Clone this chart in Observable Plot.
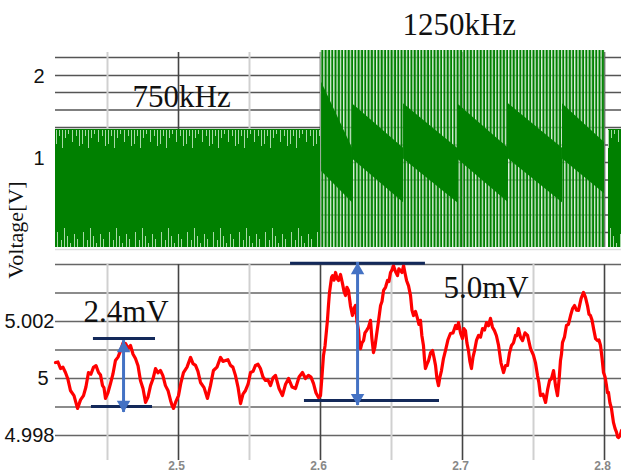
<!DOCTYPE html>
<html><head><meta charset="utf-8">
<script src="https://cdn.jsdelivr.net/npm/d3@7"></script>
<script src="https://cdn.jsdelivr.net/npm/@observablehq/plot@0.6"></script>
<style>
body{margin:0;background:#fff;}
#wrap{position:relative;width:621px;height:472px;overflow:hidden;background:#fff;}
#top{position:absolute;left:0;top:0;}
#bot{position:absolute;left:0;top:250px;}
#ylab{position:absolute;left:16px;top:230px;transform:translate(-50%,-50%) rotate(-90deg);font:22px "Liberation Serif","Times New Roman",serif;white-space:nowrap;color:#111;}
</style></head><body>
<div id="wrap"><div id="top"></div><div id="bot"></div><div id="ylab">Voltage[V]</div></div>
<script>
// ---- shared time axis ----
const xDomain = [2.41338, 2.81197];
const majorT = [2.5, 2.6, 2.7, 2.8];
const minorT = [2.45, 2.55, 2.65, 2.75];

// ---- top panel (switching voltage) ----
const topDomain = [-0.109, 2.921];
const topTicks = [1, 2];
const topGridV = [2.230, 2.012, 1.806, 1.594, 1.382, 1.170, 0.958, 0.745, 0.533, 0.321, 0.109];
const block750Start = [2.41338, 2.8028];
const block750End = [2.6, 2.81197];
const block750Lo = -0.073, block750Hi = 1.358;
const burst1250Start = 2.6, burst1250End = 2.8004;
const burst1250Lo = -0.073, burst1250Hi = 2.315;
const bandStart = [2.6008, 2.6225, 2.6585, 2.6965, 2.7324, 2.7704];
const bandEnd   = [2.6225, 2.6585, 2.6965, 2.7324, 2.7704, 2.8000];
const bandHiStart = [1.93, 1.67, 1.67, 1.67, 1.67, 1.67];
const bandHiEnd   = [1.13, 1.13, 1.13, 1.13, 1.13, 1.20];
const bandLoStart = [0.85, 1.00, 1.00, 1.00, 1.00, 1.00];
const bandLoEnd   = [0.47, 0.47, 0.47, 0.47, 0.47, 0.58];
const freqLabels = ["750kHz", "1250kHz"];
const freqLabelT = [2.4676, 2.6577];
const freqLabelV = [1.745, 2.618];

// ---- bottom panel (output voltage) ----
const botDomain = [4.997123, 5.004491];
const botGridV = [4.998, 4.999, 5.000, 5.001, 5.002, 5.003, 5.004];
const botTicksA = [5.002, 4.998];
const botTicksB = [5];
const sigT = [2.4134,2.4151,2.4169,2.4186,2.4204,2.4221,2.4239,2.4264,2.4289,2.4310,2.4331,2.4348,2.4366,2.4383,2.4401,2.4419,2.4437,2.4451,2.4465,2.4475,2.4486,2.4503,2.4521,2.4538,2.4556,2.4574,2.4592,2.4610,2.4627,2.4645,2.4662,2.4680,2.4697,2.4715,2.4732,2.4750,2.4768,2.4785,2.4803,2.4820,2.4838,2.4855,2.4873,2.4890,2.4908,2.4926,2.4944,2.4955,2.4965,2.4982,2.5000,2.5017,2.5035,2.5060,2.5085,2.5102,2.5120,2.5137,2.5155,2.5180,2.5204,2.5225,2.5246,2.5271,2.5296,2.5313,2.5331,2.5348,2.5366,2.5383,2.5401,2.5419,2.5437,2.5454,2.5472,2.5490,2.5507,2.5525,2.5542,2.5560,2.5577,2.5595,2.5613,2.5630,2.5648,2.5665,2.5683,2.5708,2.5732,2.5754,2.5775,2.5800,2.5824,2.5849,2.5873,2.5894,2.5915,2.5933,2.5951,2.5968,2.5986,2.6000,2.6010,2.6021,2.6032,2.6042,2.6049,2.6056,2.6063,2.6070,2.6078,2.6085,2.6095,2.6106,2.6117,2.6127,2.6141,2.6155,2.6166,2.6176,2.6186,2.6197,2.6211,2.6225,2.6235,2.6246,2.6257,2.6268,2.6275,2.6282,2.6292,2.6303,2.6313,2.6324,2.6338,2.6352,2.6362,2.6373,2.6383,2.6394,2.6408,2.6423,2.6433,2.6444,2.6458,2.6472,2.6482,2.6493,2.6503,2.6514,2.6528,2.6542,2.6552,2.6563,2.6574,2.6585,2.6595,2.6606,2.6620,2.6634,2.6644,2.6655,2.6669,2.6683,2.6693,2.6704,2.6714,2.6725,2.6732,2.6739,2.6750,2.6761,2.6775,2.6789,2.6800,2.6810,2.6820,2.6831,2.6841,2.6852,2.6866,2.6880,2.6897,2.6915,2.6933,2.6951,2.6961,2.6972,2.6986,2.7000,2.7010,2.7021,2.7031,2.7042,2.7052,2.7063,2.7074,2.7085,2.7099,2.7113,2.7127,2.7141,2.7155,2.7169,2.7183,2.7197,2.7211,2.7225,2.7239,2.7254,2.7271,2.7289,2.7303,2.7317,2.7331,2.7345,2.7359,2.7373,2.7383,2.7394,2.7408,2.7423,2.7440,2.7458,2.7479,2.7500,2.7514,2.7528,2.7538,2.7549,2.7567,2.7585,2.7599,2.7613,2.7627,2.7641,2.7655,2.7669,2.7680,2.7690,2.7697,2.7704,2.7718,2.7732,2.7746,2.7761,2.7775,2.7789,2.7803,2.7817,2.7835,2.7852,2.7866,2.7880,2.7891,2.7901,2.7912,2.7923,2.7937,2.7951,2.7961,2.7972,2.7983,2.7993,2.8004,2.8014,2.8021,2.8028,2.8038,2.8049,2.8056,2.8063,2.8074,2.8085,2.8092,2.8099,2.8110,2.8120];
const sigV = [5.00056,5.00058,5.00035,5.00040,5.00021,4.99998,4.99958,4.99940,4.99895,4.99925,4.99940,4.99970,5.00021,5.00015,5.00039,5.00045,5.00021,5.00012,4.99975,4.99968,4.99930,4.99950,4.99982,5.00015,5.00063,5.00075,5.00098,5.00125,5.00123,5.00105,5.00116,5.00085,5.00070,5.00045,4.99993,4.99965,4.99916,4.99935,4.99975,4.99998,5.00035,5.00020,5.00028,5.00010,4.99975,4.99958,4.99923,4.99905,4.99895,4.99920,4.99940,4.99985,5.00021,5.00040,5.00074,5.00052,5.00046,5.00025,4.99986,4.99968,4.99930,4.99975,5.00028,5.00040,5.00074,5.00060,5.00063,5.00066,5.00046,5.00040,5.00011,4.99970,4.99912,4.99945,4.99958,4.99980,5.00021,5.00025,5.00046,5.00050,5.00035,5.00005,4.99993,4.99995,4.99975,5.00002,5.00011,4.99965,4.99940,4.99980,5.00000,4.99970,4.99965,5.00005,5.00021,5.00000,5.00011,5.00005,4.99982,4.99950,4.99933,4.99940,5.00005,5.00081,5.00115,5.00168,5.00205,5.00256,5.00300,5.00326,5.00355,5.00361,5.00345,5.00372,5.00350,5.00344,5.00365,5.00333,5.00305,5.00291,5.00320,5.00309,5.00255,5.00221,5.00245,5.00256,5.00200,5.00168,5.00120,5.00105,5.00125,5.00133,5.00160,5.00168,5.00180,5.00204,5.00140,5.00091,5.00110,5.00151,5.00200,5.00256,5.00270,5.00309,5.00320,5.00344,5.00340,5.00372,5.00380,5.00396,5.00375,5.00361,5.00385,5.00379,5.00372,5.00396,5.00370,5.00344,5.00325,5.00291,5.00240,5.00221,5.00235,5.00211,5.00190,5.00204,5.00150,5.00116,5.00070,5.00035,5.00050,5.00063,5.00090,5.00098,5.00072,5.00046,5.00000,4.99975,5.00005,5.00028,5.00070,5.00098,5.00135,5.00158,5.00160,5.00186,5.00175,5.00196,5.00160,5.00140,5.00175,5.00168,5.00125,5.00098,5.00060,5.00035,5.00075,5.00098,5.00135,5.00151,5.00145,5.00175,5.00170,5.00196,5.00185,5.00211,5.00180,5.00168,5.00150,5.00116,5.00055,5.00021,5.00045,5.00046,5.00090,5.00116,5.00125,5.00151,5.00150,5.00175,5.00145,5.00133,5.00160,5.00151,5.00105,5.00081,5.00055,5.00011,4.99985,4.99940,4.99945,4.99916,4.99960,4.99993,5.00000,5.00028,4.99975,4.99940,4.99995,5.00063,5.00085,5.00126,5.00145,5.00186,5.00190,5.00221,5.00245,5.00256,5.00240,5.00239,5.00280,5.00302,5.00285,5.00256,5.00225,5.00221,5.00205,5.00175,5.00140,5.00133,5.00135,5.00116,5.00070,5.00021,5.00005,4.99975,4.99950,4.99951,4.99915,4.99895,4.99870,4.99846,4.99825,4.99811,4.99795,4.99793,4.99800,4.99818];
// ripple annotations
const ripLabels = ["2.4mV", "5.0mV"];
const ripLabelT = [2.4331, 2.6866];
const ripLabelV = [5.002316, 5.003158];
const barY  = [5.0014, 4.99902, 5.00404, 4.99923];
const barT1 = [2.4401, 2.4387, 2.5789, 2.5887];
const barT2 = [2.4838, 2.4817, 2.6739, 2.6838];
const arrowT = [2.4613, 2.6261];
const arrowTop = [5.00133, 5.00407];
const arrowBot = [4.99881, 4.99905];

const FONT = "Arial, 'Liberation Sans', sans-serif";
const SERIF = "'Liberation Serif', 'Times New Roman', serif";
const GREEN = "#008000";

// ---------- top plot ----------
const blocks = block750Start.map((s, i) => ({x1: s, x2: block750End[i], y1: block750Lo, y2: block750Hi}));
const burst = [{x1: burst1250Start, x2: burst1250End, y1: burst1250Lo, y2: burst1250Hi}];
const bandPts = bandStart.flatMap((s, i) => [
  {t: s, lo: bandLoStart[i], hi: bandHiStart[i], b: i},
  {t: bandEnd[i], lo: bandLoEnd[i], hi: bandHiEnd[i], b: i}
]);
const freqData = freqLabels.map((s, i) => ({s, t: freqLabelT[i], v: freqLabelV[i]}));
const hGridTop = topGridV.map(v => ({v, a: xDomain[0], b: xDomain[1]}));
const vMinorTop = minorT.map(t => ({t, a: -0.073, b: 2.291}));
const vMajorTop = majorT.map(t => ({t, a: -0.073, b: 2.291}));
const sepTop = [{v: -0.097, a: xDomain[0], b: xDomain[1]}];

const topPlot = Plot.plot({
  width: 621, height: 250,
  marginLeft: 55, marginRight: 0, marginTop: 0, marginBottom: 0,
  style: {fontFamily: FONT, background: "transparent", overflow: "visible"},
  x: {domain: xDomain, axis: null},
  y: {domain: topDomain, axis: null},
  marks: [
    Plot.ruleY(hGridTop, {y: "v", x1: "a", x2: "b", stroke: "#555", strokeWidth: 1.6}),
    Plot.ruleX(vMinorTop, {x: "t", y1: "a", y2: "b", stroke: "#d0d0d0", strokeWidth: 2}),
    Plot.ruleX(vMajorTop, {x: "t", y1: "a", y2: "b", stroke: "#444", strokeWidth: 1.6}),
    Plot.rect(blocks, {x1: "x1", x2: "x2", y1: "y1", y2: "y2", fill: "url(#tex750)"}),
    Plot.rect(burst, {x1: "x1", x2: "x2", y1: "y1", y2: "y2", fill: "url(#stripe1250)"}),
    Plot.area(bandPts, {x1: "t", y1: "lo", y2: "hi", z: "b", fill: GREEN, curve: "linear"}),
    Plot.ruleY(sepTop, {y: "v", x1: "a", x2: "b", stroke: "#ddd", strokeWidth: 1.5}),
    Plot.axisY(topTicks, {tickSize: 0, tickPadding: 11, fontSize: 20, label: null, tickFormat: d => String(d), fill: "#111"}),
    Plot.text(freqData, {x: "t", y: "v", text: "s", textAnchor: "start", fontSize: 31, fontFamily: SERIF, fill: "#111"})
  ]
});
// texture patterns (style only)
const defs = d3.select(topPlot).insert("defs", ":first-child");
const tex = defs.append("pattern").attr("id", "tex750").attr("patternUnits", "userSpaceOnUse")
  .attr("x", 55).attr("y", 0).attr("width", 26).attr("height", 250);
tex.append("rect").attr("width", 26).attr("height", 250).attr("fill", GREEN);
const texTop = [[1,14],[4,6],[7,18],[10,8],[13,4],[17,12],[21,6],[24,16]];
const texBot = [[2,15],[6,7],[9,19],[12,11],[15,4],[19,13],[22,8]];
texTop.forEach(([x, h]) => tex.append("rect").attr("x", x).attr("y", 130).attr("width", 1).attr("height", h).attr("fill", "#a6d8a6"));
texBot.forEach(([x, h]) => tex.append("rect").attr("x", x).attr("y", 247 - h).attr("width", 1).attr("height", h).attr("fill", "#a6d8a6"));
const st = defs.append("pattern").attr("id", "stripe1250").attr("patternUnits", "userSpaceOnUse")
  .attr("x", 320).attr("y", 0).attr("width", 3.3).attr("height", 250);
st.append("rect").attr("width", 3.3).attr("height", 250).attr("fill", "#cfeacf").attr("fill-opacity", 0.65);
st.append("rect").attr("x", 1.3).attr("width", 2).attr("height", 250).attr("fill", GREEN);
document.getElementById("top").appendChild(topPlot);

// ---------- bottom plot ----------
const sig = sigT.map((t, i) => ({t, v: sigV[i]}));
const bars = barY.map((v, i) => ({v, t1: barT1[i], t2: barT2[i]}));
const arrows = arrowT.map((t, i) => ({t, top: arrowTop[i], bot: arrowBot[i]}));
const ripData = ripLabels.map((s, i) => ({s, t: ripLabelT[i], v: ripLabelV[i]}));
const hGridBot = botGridV.map(v => ({v, a: xDomain[0], b: xDomain[1]}));
const vMinorBot = minorT.map(t => ({t, a: botDomain[0], b: 5.004}));
const vMajorBot = majorT.map(t => ({t, a: botDomain[0], b: 5.004}));

const botPlot = Plot.plot({
  width: 621, height: 222,
  marginLeft: 55, marginRight: 0, marginTop: 0, marginBottom: 12,
  style: {fontFamily: FONT, background: "transparent", overflow: "visible"},
  x: {domain: xDomain, axis: null},
  y: {domain: botDomain, axis: null},
  marks: [
    Plot.ruleY(hGridBot, {y: "v", x1: "a", x2: "b", stroke: "#666", strokeWidth: 1.6}),
    Plot.ruleX(vMinorBot, {x: "t", y1: "a", y2: "b", stroke: "#d0d0d0", strokeWidth: 2}),
    Plot.ruleX(vMajorBot, {x: "t", y1: "a", y2: "b", stroke: "#444", strokeWidth: 1.6}),
    Plot.line(sig, {x: "t", y: "v", stroke: "#ff0000", strokeWidth: 3.2, curve: "linear"}),
    Plot.ruleY(bars, {y: "v", x1: "t1", x2: "t2", stroke: "#13295a", strokeWidth: 3}),
    Plot.ruleX(arrows, {x: "t", y1: "top", y2: "bot", stroke: "#4472c4", strokeWidth: 3}),
    Plot.dot(arrows, {x: "t", y: "top", symbol: "triangle", r: 5, fill: "#4472c4", stroke: null, dy: 7.8}),
    Plot.dot(arrows, {x: "t", y: "bot", symbol: "triangle", r: 5, fill: "#4472c4", stroke: null, rotate: 180, dy: -7.8}),
    Plot.text(ripData, {x: "t", y: "v", text: "s", textAnchor: "start", fontSize: 31, fontFamily: SERIF, fill: "#111"}),
    Plot.axisY(botTicksA, {tickSize: 0, tickPadding: 1, fontSize: 20, label: null, tickFormat: d => String(d), fill: "#111"}),
    Plot.axisY(botTicksB, {tickSize: 0, tickPadding: 7, fontSize: 20, label: null, tickFormat: d => String(d), fill: "#111"}),
    Plot.axisX(majorT, {tickSize: 0, tickPadding: 1, fontSize: 12, fontWeight: "bold", label: null, tickFormat: d => String(d), fill: "#888", dx: -2})
  ]
});
document.getElementById("bot").appendChild(botPlot);
</script>
</body></html>
